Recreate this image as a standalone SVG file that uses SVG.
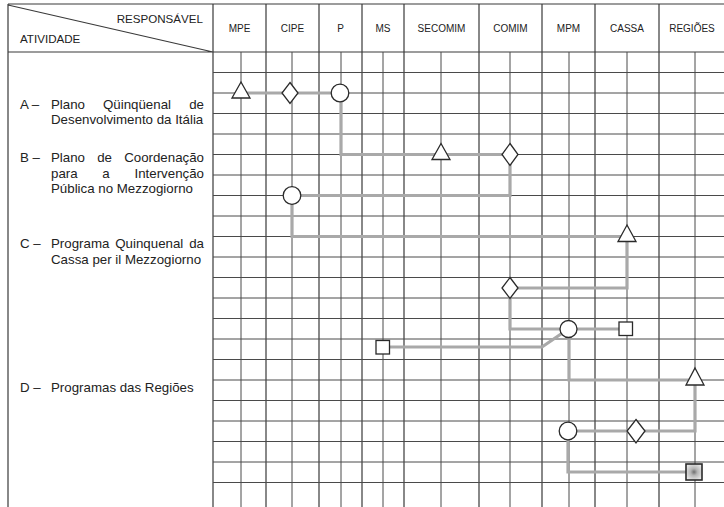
<svg xmlns="http://www.w3.org/2000/svg" width="724" height="507" viewBox="0 0 724 507">
<style>
.bg{fill:#ffffff}
.g{stroke:#3a3a3a;stroke-width:1.2;fill:none}
.gs{stroke:#4a4a4a;stroke-width:1;fill:none}
.c{stroke:#a9a9a9;stroke-width:3.2;fill:none;stroke-linejoin:miter}
.n{fill:#ffffff;stroke:#2a2a2a;stroke-width:1.3}
.h{font-family:"Liberation Sans",Arial,sans-serif;font-size:11.6px;fill:#222}
.col{font-family:"Liberation Sans",Arial,sans-serif;font-size:10px;fill:#222;text-anchor:middle}
.t{font-family:"Liberation Sans",Arial,sans-serif;font-size:13.3px;fill:#222}
.m{text-anchor:middle}
.e{text-anchor:end}
</style>
<defs>
<radialGradient id="sq" cx="50%" cy="50%" r="60%">
<stop offset="0%" stop-color="#6e6e6e"/>
<stop offset="35%" stop-color="#b4b4b4"/>
<stop offset="100%" stop-color="#ececec"/>
</radialGradient>
</defs>
<rect class="bg" x="0" y="0" width="724" height="507"/>

<g id="grid">
<!-- frame -->
<path class="g" d="M8,4 H724 M8,4 V507 M8,52 H724 M8,5 L213,52"/>
<!-- main column lines -->
<path class="g" d="M213,4 V507 M266,4 V507 M319,4 V507 M362,4 V507 M404,4 V507 M479,4 V507 M542,4 V507 M595,4 V507 M659,4 V507"/>
<!-- sub dividers -->
<path class="gs" d="M241,52 V507 M292,52 V507 M341,52 V507 M383,52 V507 M441,52 V507 M510,52 V507 M569,52 V507 M627,52 V507 M695,52 V507"/>
<!-- row lines -->
<path class="gs" d="M213,72.5 H724 M213,93 H724 M213,113.5 H724 M213,134 H724 M213,154.5 H724 M213,175 H724 M213,195.5 H724 M213,216 H724 M213,236.5 H724 M213,257 H724 M213,277.5 H724 M213,298 H724 M213,318.5 H724 M213,339 H724 M213,359.5 H724 M213,380 H724 M213,400.5 H724 M213,421 H724 M213,441.5 H724 M213,462 H724 M213,482.5 H724"/>
</g>

<g id="header">
<text class="h e" x="203" y="23">RESPONSÁVEL</text>
<text class="h" x="20" y="43">ATIVIDADE</text>
<text class="col" x="239.5" y="32">MPE</text>
<text class="col" x="292.5" y="32">CIPE</text>
<text class="col" x="340.5" y="32">P</text>
<text class="col" x="383" y="32">MS</text>
<text class="col" x="441.5" y="32">SECOMIM</text>
<text class="col" x="510.5" y="32">COMIM</text>
<text class="col" x="568.5" y="32">MPM</text>
<text class="col" x="627" y="32">CASSA</text>
<text class="col" x="692" y="32">REGIÕES</text>
</g>

<g id="activities">
<text class="t" x="20" y="108.5">A –</text>
<text class="t" x="51" y="108.5">Plano</text>
<text class="t m" x="137" y="108.5">Qüinqüenal</text>
<text class="t e" x="204" y="108.5">de</text>
<text class="t" x="51" y="124">Desenvolvimento da Itália</text>

<text class="t" x="20" y="162">B –</text>
<text class="t" x="51" y="162">Plano</text>
<text class="t m" x="104.6" y="162">de</text>
<text class="t e" x="204" y="162">Coordenação</text>
<text class="t" x="51" y="177.5">para</text>
<text class="t m" x="106" y="177.5">a</text>
<text class="t e" x="204" y="177.5">Intervenção</text>
<text class="t" x="51" y="193">Pública no Mezzogiorno</text>

<text class="t" x="20" y="248">C –</text>
<text class="t" x="51" y="248">Programa</text>
<text class="t m" x="149.3" y="248">Quinquenal</text>
<text class="t e" x="204" y="248">da</text>
<text class="t" x="51" y="263.5">Cassa per il Mezzogiorno</text>

<text class="t" x="20" y="392">D –</text>
<text class="t" x="51" y="392">Programas das Regiões</text>
</g>

<g id="connectors">
<path class="c" d="M241,93 H340"/>
<path class="c" d="M341,93 V154.5 H510"/>
<path class="c" d="M510,154.5 V195.5 H292"/>
<path class="c" d="M292,195.5 V236.5 H627"/>
<path class="c" d="M627,236.5 V288 H510"/>
<path class="c" d="M510,288 V329 H627"/>
<path class="c" d="M383,347 H542 L561,334"/>
<path class="c" d="M569,329 V380 H695"/>
<path class="c" d="M695,380 V431 H568"/>
<path class="c" d="M568,431 V472 H694"/>
</g>

<g id="a-mpe-triangle"><path class="n" d="M241,82 L250,98 L232,98 Z"/></g>
<g id="a-cipe-diamond"><path class="n" d="M290,82.5 L298,93 L290,103.5 L282,93 Z"/></g>
<g id="a-p-circle"><circle class="n" cx="340" cy="93" r="8.8"/></g>
<g id="b-secomim-triangle"><path class="n" d="M441,143.5 L450,159.5 L432,159.5 Z"/></g>
<g id="b-comim-diamond"><path class="n" d="M510,143.5 L518,154.5 L510,165.5 L502,154.5 Z"/></g>
<g id="c-cipe-circle"><circle class="n" cx="292" cy="195.5" r="8.8"/></g>
<g id="c-cassa-triangle"><path class="n" d="M627,225 L636,241.5 L618,241.5 Z"/></g>
<g id="c-comim-diamond"><path class="n" d="M510,277.5 L518,288 L510,298.5 L502,288 Z"/></g>
<g id="c-mpm-circle"><circle class="n" cx="568.5" cy="329" r="8.5"/></g>
<g id="c-cassa-square"><rect class="n" x="619" y="322" width="13.5" height="13.5"/></g>
<g id="c-ms-square"><rect class="n" x="376" y="340.5" width="13.5" height="13.5"/></g>
<g id="d-regioes-triangle"><path class="n" d="M695,368 L704,385 L686,385 Z"/></g>
<g id="d-cassa-diamond"><path class="n" d="M636,419.5 L645,431 L636,443 L627,431 Z"/></g>
<g id="d-mpm-circle"><circle class="n" cx="568" cy="431" r="8.8"/></g>
<g id="d-regioes-square"><rect x="686" y="464" width="16" height="16" fill="url(#sq)" stroke="#2a2a2a" stroke-width="1.6"/></g>
</svg>
